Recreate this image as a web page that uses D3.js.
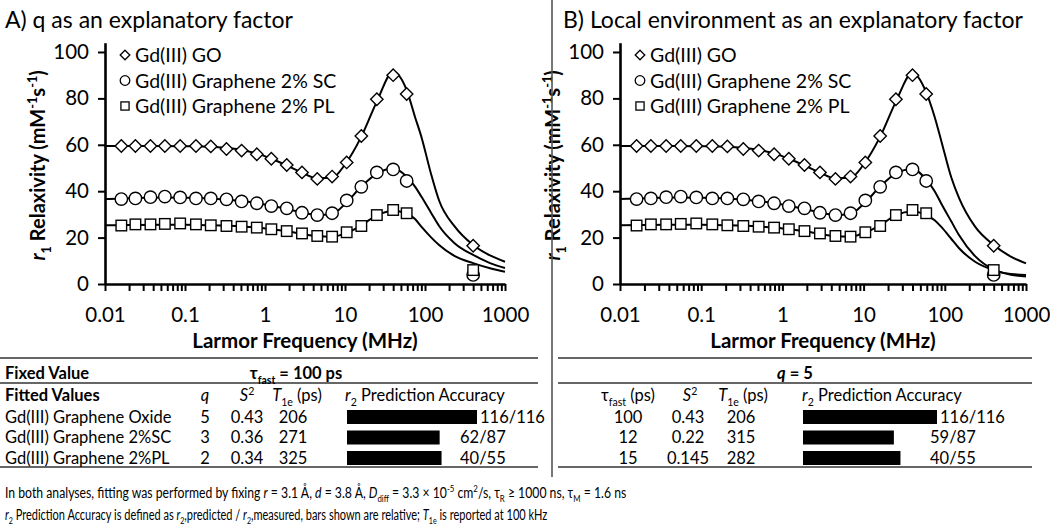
<!DOCTYPE html>
<html>
<head>
<meta charset="utf-8">
<script src="https://cdn.jsdelivr.net/npm/d3@7/dist/d3.min.js"></script>
<style>
  html, body { margin: 0; padding: 0; background: #fff; }
  svg { display: block; }
  text { font-family: Lato, "Open Sans", "Liberation Sans", sans-serif; fill: #000; }
</style>
</head>
<body>
<svg id="chart" width="1050" height="528"></svg>
<script>
// ---------------- data ----------------
const panelTitles = ["A) q as an explanatory factor", "B) Local environment as an explanatory factor"];
const seriesNames = ["Gd(III) GO", "Gd(III) Graphene 2% SC", "Gd(III) Graphene 2% PL"];

// measured Larmor frequencies (MHz)
const freq = [0.016, 0.024, 0.037, 0.056, 0.087, 0.137, 0.21, 0.33, 0.51, 0.79, 1.2, 1.87, 2.9, 4.5, 6.9, 10.5, 16, 25, 40, 59, 400];
// measured r1 (mM-1 s-1)
const goData = [59.5, 59.5, 59.5, 59.5, 59.5, 59.5, 59.3, 58.2, 57.5, 55.9, 54.0, 51.3, 48.1, 45.3, 46.3, 52.4, 63.8, 79.6, 90.0, 81.9, 16.5];
const scData = [36.6, 36.9, 37.4, 37.7, 37.3, 36.9, 36.9, 36.5, 35.6, 34.8, 33.6, 32.6, 30.7, 29.7, 30.5, 36.0, 41.9, 48.1, 49.4, 44.4, 3.9];
const plData = [25.2, 25.7, 25.7, 25.9, 26.1, 25.7, 25.3, 25.0, 24.7, 24.3, 23.6, 22.8, 21.8, 20.7, 20.4, 22.3, 25.0, 29.7, 31.9, 30.5, 6.0];

// fitted curves
const fitFreq = [0.01, 0.02, 0.05, 0.1, 0.2, 0.5, 0.8, 1.2, 1.9, 2.9, 4.5, 6.9, 10, 16, 25, 40, 59, 75, 90, 120, 150, 236, 400, 650, 1000];
const fitGO_A = [59.5, 59.5, 59.5, 59.4, 59.2, 57.9, 56.2, 54.0, 51.0, 48.0, 45.6, 45.8, 51.5, 63.5, 78.6, 91.5, 83.6, 72.0, 63.5, 47.0, 36.0, 24.7, 16.8, 12.3, 9.6];
const fitSC_A = [36.6, 37.0, 37.3, 37.2, 36.9, 35.8, 34.9, 33.7, 32.3, 30.9, 29.8, 30.2, 34.5, 42.0, 47.6, 49.8, 46.3, 42.0, 37.7, 30.5, 25.0, 17.5, 12.5, 9.0, 6.9];
const fitPL_A = [25.3, 25.4, 25.5, 25.5, 25.3, 24.8, 24.3, 23.6, 22.7, 21.6, 20.6, 20.4, 21.7, 25.3, 29.6, 31.6, 30.4, 28.0, 24.7, 20.0, 16.8, 12.0, 9.0, 6.8, 5.3];
const fitGO_B = [59.5, 59.5, 59.5, 59.4, 59.2, 57.9, 56.2, 54.0, 51.0, 48.0, 45.6, 45.8, 51.5, 63.5, 78.6, 91.0, 82.6, 72.0, 62.0, 46.0, 37.0, 24.7, 16.8, 11.8, 8.9];
const fitSC_B = [36.6, 37.0, 37.3, 37.2, 36.9, 35.8, 34.9, 33.7, 32.3, 30.9, 29.8, 30.2, 34.5, 42.0, 47.7, 49.6, 45.0, 40.0, 34.8, 27.0, 21.0, 12.0, 6.2, 4.0, 3.2];
const fitPL_B = [25.3, 25.4, 25.5, 25.5, 25.3, 24.8, 24.3, 23.6, 22.7, 21.6, 20.6, 20.4, 22.0, 25.3, 29.7, 31.2, 29.7, 27.5, 24.7, 19.5, 15.4, 9.6, 6.0, 4.3, 3.9];

const yTicks = [0, 20, 40, 60, 80, 100];
const xMajor = [0.01, 0.1, 1, 10, 100, 1000];
const xTickLabels = ["0.01", "0.1", "1", "10", "100", "1000"];

// tables
const rowNames = ["Gd(III) Graphene Oxide", "Gd(III) Graphene 2%SC", "Gd(III) Graphene 2%PL"];
const qA = ["5", "3", "2"];
const s2A = ["0.43", "0.36", "0.34"];
const t1eA = ["206", "271", "325"];
const predA = [116, 62, 40];
const measA = [116, 87, 55];
const tauB = ["100", "12", "15"];
const s2B = ["0.43", "0.22", "0.145"];
const t1eB = ["206", "315", "282"];
const predB = [116, 59, 40];
const measB = [116, 87, 55];

// ---------------- helpers ----------------
const svg = d3.select("#chart");
const INK = "#000";

// rich text: parts = [[string, opts]], opts: it, sub, sup
function rich(t, parts, fs) {
  let shift = 0;
  parts.forEach(([s, o]) => {
    o = o || {};
    const ts = t.append("tspan").text(s);
    let target = 0;
    if (o.sub) { target = fs * 0.28; ts.attr("font-size", fs * 0.64); }
    if (o.sup) { target = -fs * 0.38; ts.attr("font-size", fs * 0.64); }
    if (target !== shift) { ts.attr("dy", target - shift); shift = target; }
    if (o.it) ts.attr("font-style", "italic");
  });
  return t;
}

const yTop = 42.7, yBot = 284;
const y = d3.scaleLinear().domain([0, 104]).range([yBot, yTop]);

const panels = [
  { title: panelTitles[0], tx: 5, x0: 105, x1: 505, fits: [fitGO_A, fitSC_A, fitPL_A] },
  { title: panelTitles[1], tx: 563, x0: 620, x1: 1026, fits: [fitGO_B, fitSC_B, fitPL_B] }
];
const dataSets = [goData, scData, plData];

function marker(sel, type, s) {
  if (type === 0) {
    sel.append("path").attr("d", `M0,${-s}L${s},0L0,${s}L${-s},0Z`);
  } else if (type === 1) {
    sel.append("circle").attr("r", s);
  } else {
    const h = s * 0.85;
    sel.append("rect").attr("x", -h).attr("y", -h).attr("width", 2 * h).attr("height", 2 * h);
  }
}

const minorTicks = [];
for (let e = -2; e <= 3; e++) {
  for (let m = 1; m <= 9; m++) {
    const v = m * Math.pow(10, e);
    if (v <= 1000.0001) minorTicks.push(+v.toPrecision(3));
  }
}

panels.forEach((p) => {
  const g = svg.append("g");
  const x = d3.scaleLog().domain([0.01, 1000]).range([p.x0, p.x1]);

  g.append("text").attr("x", p.tx).attr("y", 28).attr("font-size", 23).text(p.title);

  const line = d3.line().x(d => x(d[0])).y(d => y(d[1])).curve(d3.curveMonotoneX);
  p.fits.forEach(fv => {
    g.append("path")
      .datum(fitFreq.map((f, i) => [f, fv[i]]))
      .attr("d", line).attr("fill", "none").attr("stroke", INK).attr("stroke-width", 2);
  });

  dataSets.forEach((ds, si) => {
    ds.forEach((v, i) => {
      const m = g.append("g").attr("transform", `translate(${x(freq[i])},${y(v)})`)
        .attr("fill", "#fff").attr("stroke", INK).attr("stroke-width", 1.4);
      marker(m, si, 6.2);
    });
  });

  const ya = g.append("g").attr("transform", `translate(${p.x0},0)`)
    .call(d3.axisLeft(y).tickValues(yTicks).tickSize(7).tickSizeOuter(0).tickPadding(9));
  const xa = g.append("g").attr("transform", `translate(0,${yBot})`)
    .call(d3.axisBottom(x).tickValues(minorTicks).tickSize(7).tickSizeOuter(0).tickPadding(16)
      .tickFormat(d => { const k = xMajor.findIndex(t => Math.abs(t - d) / t < 1e-6); return k >= 0 ? xTickLabels[k] : ""; }));
  [ya, xa].forEach(a => {
    a.select(".domain").attr("stroke", INK).attr("stroke-width", 2.6);
    a.selectAll(".tick line").attr("stroke", INK).attr("stroke-width", 2);
    a.selectAll(".tick text").attr("font-size", 20.5).attr("fill", INK)
      .style("font-family", "Lato, 'Open Sans', sans-serif");
  });

  const yt = g.append("text").attr("transform", `translate(${p.x0 - 60},${(yTop + yBot) / 2 + 2}) rotate(-90)`)
    .attr("text-anchor", "middle").attr("font-size", 20).attr("font-weight", "bold");
  rich(yt, [["r", { it: 1 }], ["1", { sub: 1 }], [" Relaxivity (mM"], ["-1", { sup: 1 }], ["s"], ["-1", { sup: 1 }], [")"]], 20);

  g.append("text").attr("x", (p.x0 + p.x1) / 2).attr("y", 348).attr("text-anchor", "middle")
    .attr("font-size", 20.5).attr("font-weight", "bold").text("Larmor Frequency (MHz)");

  seriesNames.forEach((n, si) => {
    const ly = 55 + si * 25.5;
    const m = g.append("g").attr("transform", `translate(${p.x0 + 20},${ly})`)
      .attr("fill", "#fff").attr("stroke", INK).attr("stroke-width", 1.3);
    marker(m, si, 4.8);
    g.append("text").attr("x", p.x0 + 30).attr("y", ly + 7).attr("font-size", 19.5).text(n);
  });
});

// divider
svg.append("line").attr("x1", 552).attr("x2", 552).attr("y1", 0).attr("y2", 477)
  .attr("stroke", "#555").attr("stroke-width", 1.6);

// ---------------- tables ----------------
const rules = [358, 383, 467];
[[0, 538], [558, 1032]].forEach(([a, b]) => {
  rules.forEach(ry => svg.append("line").attr("x1", a).attr("x2", b).attr("y1", ry).attr("y2", ry)
    .attr("stroke", "#333").attr("stroke-width", 1.6));
});

const FS = 16.5;
const rowY = [417, 437.5, 458];
function txt(x, yy, anchor, bold) {
  const t = svg.append("text").attr("x", x).attr("y", yy).attr("text-anchor", anchor).attr("font-size", FS);
  if (bold) t.attr("font-weight", "bold");
  return t;
}

txt(5, 379, "start", true).text("Fixed Value");
rich(txt(296, 379, "middle", true), [["τ"], ["fast", { sub: 1 }], [" = 100 ps"]], FS);
txt(5, 401, "start", true).text("Fitted Values");
rich(txt(205, 401, "middle"), [["q", { it: 1 }]], FS);
rich(txt(247, 401, "middle"), [["S", { it: 1 }], ["2", { sup: 1 }]], FS);
rich(txt(297, 401, "middle"), [["T", { it: 1 }], ["1e", { sub: 1 }], [" (ps)"]], FS);
rich(txt(345, 401, "start"), [["r", { it: 1 }], ["2", { sub: 1 }], [" Prediction Accuracy"]], FS);

rich(txt(795, 379, "middle", true), [["q", { it: 1 }], [" = 5"]], FS);
rich(txt(628, 401, "middle"), [["τ"], ["fast", { sub: 1 }], [" (ps)"]], FS);
rich(txt(690, 401, "middle"), [["S", { it: 1 }], ["2", { sup: 1 }]], FS);
rich(txt(743, 401, "middle"), [["T", { it: 1 }], ["1e", { sub: 1 }], [" (ps)"]], FS);
rich(txt(802, 401, "start"), [["r", { it: 1 }], ["2", { sub: 1 }], [" Prediction Accuracy"]], FS);

const barA = d3.scaleLinear().domain([0, 1]).range([347, 477]);
const barB = d3.scaleLinear().domain([0, 1]).range([803, 937]);

rowNames.forEach((n, i) => {
  const yy = rowY[i];
  txt(5, yy + 5.5, "start").text(n);
  txt(205, yy + 5.5, "middle").text(qA[i]);
  txt(247, yy + 5.5, "middle").text(s2A[i]);
  txt(293, yy + 5.5, "middle").text(t1eA[i]);
  const ra = predA[i] / measA[i];
  svg.append("rect").attr("x", barA(0)).attr("y", yy - 7).attr("width", barA(ra) - barA(0)).attr("height", 14).attr("fill", INK);
  txt(Math.max(barA(ra) + 3, 460), yy + 5.5, "start").text(predA[i] + "/" + measA[i]);

  txt(628, yy + 5.5, "middle").text(tauB[i]);
  txt(688, yy + 5.5, "middle").text(s2B[i]);
  txt(741, yy + 5.5, "middle").text(t1eB[i]);
  const rb = predB[i] / measB[i];
  svg.append("rect").attr("x", barB(0)).attr("y", yy - 7).attr("width", barB(rb) - barB(0)).attr("height", 14).attr("fill", INK);
  txt(Math.max(barB(rb) + 3, 930), yy + 5.5, "start").text(predB[i] + "/" + measB[i]);
});

// notes (horizontally condensed to the reference width with a transform)
function note(yPos, width, parts) {
  const g = svg.append("g");
  const t = rich(g.append("text").attr("x", 0).attr("y", 0).attr("font-size", 15), parts, 15);
  const w = t.node().getComputedTextLength();
  g.attr("transform", `translate(5,${yPos}) scale(${width / w},1)`);
}
note(498, 622,
  [["In both analyses, fitting was performed by fixing "], ["r", { it: 1 }], [" = 3.1 Å, "],
   ["d", { it: 1 }], [" = 3.8 Å, "], ["D", { it: 1 }], ["diff", { sub: 1 }], [" = 3.3 × 10"],
   ["-5", { sup: 1 }], [" cm"], ["2", { sup: 1 }], ["/s, τ"], ["R", { sub: 1 }],
   [" ≥ 1000 ns, τ"], ["M", { sub: 1 }], [" = 1.6 ns"]]);
note(520, 543,
  [["r", { it: 1 }], ["2", { sub: 1 }], [" Prediction Accuracy is defined as "], ["r", { it: 1 }], ["2", { sub: 1 }],
   [",predicted / "], ["r", { it: 1 }], ["2", { sub: 1 }], [",measured, bars shown are relative; "],
   ["T", { it: 1 }], ["1e", { sub: 1 }], [" is reported at 100 kHz"]]);
</script>
</body>
</html>
